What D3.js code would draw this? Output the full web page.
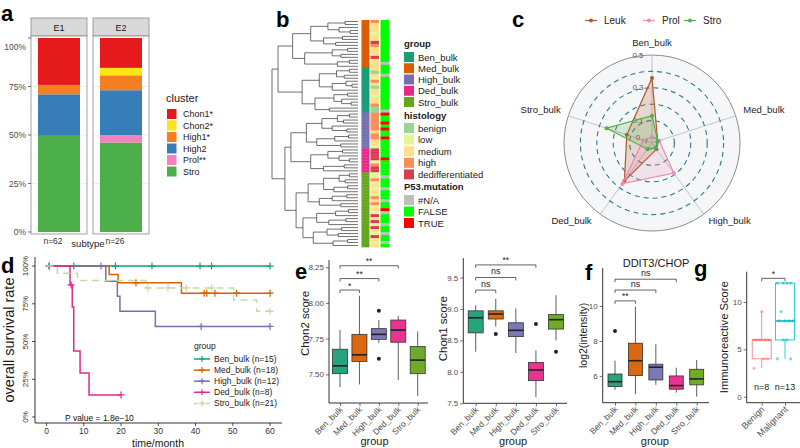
<!DOCTYPE html>
<html>
<head>
<meta charset="utf-8">
<script src="https://cdn.jsdelivr.net/npm/d3@7/dist/d3.min.js"></script>
<style>
html,body{margin:0;padding:0;background:#fff;}
svg{display:block;font-family:"Liberation Sans",Arial,Helvetica,sans-serif;}
</style>
</head>
<body>
<svg id="fig" width="800" height="448" viewBox="0 0 800 448"></svg>
<script>
// ================= DATA =================
// --- a: cluster composition per subtype
const clusterNames = ["Chon1*","Chon2*","High1*","High2","Prol**","Stro"];
const clusterColors = ["#E41A1C","#FFE31A","#F47F20","#377EB8","#F781BF","#4DAF4A"];
const subtypes = ["E1","E2"];
const subtypeN = ["n=62","n=26"];
const countsE1 = [15,0,3,13,0,31];
const countsE2 = [4,1,2,6,1,12];
const pctTicks = [0,0.25,0.5,0.75,1];

// --- b: heatmap annotations + dendrogram
const groups = ["Ben_bulk","Med_bulk","High_bulk","Ded_bulk","Stro_bulk"];
const groupColors = ["#1B9E77","#D95F02","#7570B3","#E7298A","#66A61E"];
const groupCodes = ["B","M","H","D","S"];
const histLevels = ["benign","low","medium","high","dedifferentiated"];
const histCodes = ["b","l","m","h","d"];
const histColors = ["#99D594","#E6F598","#FEE08B","#FC8D59","#D53E4F"];
const p53Levels = ["#N/A","FALSE","TRUE"];
const p53Codes = ["N","F","T"];
const p53Colors = ["#BEBEBE","#00FF00","#FF0000"];
const rowGroup = ["MMMMMMMMMMMMMMMM","BBBBBBBBBBBBBBB","HHHHHHHHHHHH","DDDDDDDD","SSSSSSSSSSSSSSSSSSSSSSSSS"];
const rowHist  = ["hmmmlmmdhmmmdmmm","mbmlhmbmmlmmhbb","hhhhhhmhhmml","ddddlhdd","llhlmlmlhmhlmldmdldmldmlm"];
const rowP53   = ["FFFFFFFFFFFFFFNF","FFNFFFFFFFFFFFN","TFFTFTFFTFFF","FFFTFFFF","FNFFFNFFFNFFTNFFFNFFNFFNF"];
// dendrogram: [mergeHeight, left, right], 0 = leaf
const treeMed  = [76,[55,[35,[15,0,0],[22,0,[9,0,0]]],[40,[18,0,0],[26,0,0]]],[62,[30,[12,0,0],[20,0,0]],[24,[10,0,0],0]]];
const treeBen  = [65,[45,[25,[10,0,0],[16,0,0]],[30,[14,0,[7,0,0]],0]],[50,[28,[12,0,0],[19,0,[8,0,0]]],[33,0,0]]];
const treeHigh = [60,[42,[24,[10,0,0],[17,0,0]],[30,0,[13,0,0]]],[48,[27,[11,0,0],0],[20,0,0]]];
const treeDed  = [55,[35,[18,0,0],[22,0,[10,0,0]]],[40,[16,0,0],0]];
const treeStro = [72,[58,[40,[22,[10,0,0],[15,0,0]],[28,[12,0,0],0]],[45,[30,[13,0,0],0],[20,0,0]]],[64,[48,[26,[11,0,0],0],[34,[14,0,0],0]],[52,[36,[19,0,0],[23,0,0]],[29,[12,0,0],0]]]];
const treeRoot = [100,[93,treeMed,treeBen],[85,[78,treeHigh,treeDed],treeStro]];

// --- c: radar
const radarAxes = ["Ben_bulk","Med_bulk","High_bulk","Ded_bulk","Stro_bulk"];
const radarSeries = ["Leuk","Prol","Stro"];
const radarColors = ["#B5572E","#E68DBA","#4FAF4A"];
const radarLeuk = [0.36, 0.0, 0.01, 0.25, 0.125];
const radarProl = [0.0, 0.01, 0.19, 0.27, 0.02];
const radarStro = [0.13, 0.0, 0.0, 0.01, 0.255];
const radarGrid = [0,0.1,0.2,0.3,0.4];
const radarTickLabels = [0,0.1,0.3,0.5];

// --- d: Kaplan-Meier
const kmLabels = ["Ben_bulk (n=15)","Med_bulk (n=18)","High_bulk (n=12)","Ded_bulk (n=8)","Stro_bulk (n=21)"];
const kmColors = ["#1B9E77","#D95F02","#7570B3","#E7298A","#C2DBA5"];
const kmTime = [[0],[0,16.8,19.2,36.2],[0,15.9,19,19.7,29.2],[0,6.3,6.9,7.3,9.0,11.4],[0,2.9,8.3,26.7,50.2,56.4]];
const kmSurv = [[1],[1,0.944,0.889,0.82],[1,0.9,0.8,0.7,0.6],[1,0.875,0.729,0.4375,0.292,0.146],[1,0.952,0.905,0.855,0.775,0.70]];
const kmEnd = [60,60,60,20,60];
const kmCensor = [[0.7,7.3,18.5,28.3,41.2,44.3,60],[24,42.3,43,45.2,51,60],[0.7,14.6,41.5,60],[6.6,20],[27.2,32.6,37.5,44.3,60]];
const kmXTicks = [0,10,20,30,40,50,60];
const kmPValue = "P value = 1.8e\u221210";

// --- e: Chon2 / Chon1 scores  [lowWhisker, Q1, median, Q3, highWhisker]
const chon2Stats = [[7.41,7.505,7.56,7.676,7.81],[7.43,7.59,7.637,7.78,8.05],[7.72,7.745,7.78,7.82,7.88],[7.46,7.725,7.81,7.88,7.91],[7.35,7.505,7.60,7.695,7.80]];
const chon2Outliers = [[],[],[7.61,7.945],[],[]];
const chon2Ticks = [7.50,7.75,8.00,8.25];
const chon2Sig = [["Ben_bulk","Med_bulk","*",8.09],["Ben_bulk","High_bulk","**",8.17],["Ben_bulk","Ded_bulk","**",8.26]];
const chon1Stats = [[8.32,8.62,8.86,8.97,9.06],[8.72,8.84,8.92,8.97,9.16],[8.30,8.56,8.66,8.78,9.01],[7.60,7.86,8.03,8.15,8.34],[8.50,8.68,8.83,8.91,9.22]];
const chon1Outliers = [[],[8.60],[],[8.76],[8.32]];
const chon1Ticks = [7.5,8.0,8.5,9.0,9.5];
const chon1Sig = [["Ben_bulk","Med_bulk","ns",9.30],["Ben_bulk","High_bulk","ns",9.50],["Ben_bulk","Ded_bulk","**",9.70]];

// --- f: DDIT3/CHOP
const ddit3Stats = [[5.2,5.39,5.67,6.11,6.87],[4.95,6.02,6.87,7.87,9.96],[5.49,5.77,6.5,6.67,7.81],[5.05,5.24,5.45,6.0,6.47],[4.82,5.49,5.83,6.38,6.91]];
const ddit3Outliers = [[8.57],[],[],[],[]];
const ddit3Ticks = [6,8,10];
const ddit3Sig = [["Ben_bulk","Med_bulk","**",10.29],["Ben_bulk","High_bulk","ns",10.91],["Ben_bulk","Ded_bulk","ns",11.53]];

// --- g: immunoreactive score
const irsCats = ["Benign","Malignant"];
const irsColors = ["#F8766D","#00BFC4"];
const irsBenign = [3,4,4,6,6,6,6,9];
const irsMalignant = [4,4,6,6,8,8,8,8,9,12,12,12,12];
const irsTicks = [0,5,10];
const irsN = ["n=8","n=13"];
const irsSig = [["Benign","Malignant","*",12.5]];

// ================= DRAWING =================
const FONT = '"Liberation Sans",Arial,Helvetica,sans-serif';
const svg = d3.select("#fig");

function T(g,x,y,s,size,o){
  o = o||{};
  const t = g.append("text").attr("x",x).attr("y",y).text(s)
    .attr("font-size",size).attr("fill",o.fill||"#1A1A1A")
    .attr("text-anchor",o.anchor||"start").attr("font-family",FONT);
  if(o.bold) t.attr("font-weight","bold");
  if(o.mid) t.attr("dominant-baseline","central");
  if(o.rot!==undefined) t.attr("transform",`rotate(${o.rot},${x},${y})`);
  return t;
}

// panel letters
[["a",1,21],["b",276,27],["c",512,27],["d",1,273],["e",295,279],["f",585,280],["g",694,276]]
  .forEach(([s,x,y])=>T(svg,x,y,s,22,{bold:true,fill:"#000"}));

// ---------- Panel a ----------
(function(){
  const g = svg.append("g");
  const yA = d3.scaleLinear().domain([0,1]).range([232,38]);
  const xA = d3.scaleBand().domain(subtypes).range([31,149]).paddingInner(6/62);
  const stackKeys = clusterNames.slice().reverse();
  const rows = [countsE1,countsE2].map((c,i)=>{
    const tot = d3.sum(c); const o = {subtype:subtypes[i]};
    clusterNames.forEach((k,j)=>o[k]=c[j]/tot); return o;
  });
  const stacked = d3.stack().keys(stackKeys)(rows);
  const w = xA.bandwidth();
  subtypes.forEach((s,i)=>{
    const x0 = xA(s);
    g.append("rect").attr("x",x0).attr("y",18).attr("width",w).attr("height",18)
      .attr("fill","#D9D9D9").attr("stroke","#8C8C8C").attr("stroke-width",0.8);
    T(g,x0+w/2,27.5,s,9,{anchor:"middle",mid:true});
    g.append("rect").attr("x",x0).attr("y",36).attr("width",w).attr("height",198).attr("fill","#fff");
    [0.125,0.375,0.625,0.875].forEach(v=>g.append("line").attr("x1",x0).attr("x2",x0+w).attr("y1",yA(v)).attr("y2",yA(v)).attr("stroke","#F2F2F2").attr("stroke-width",0.5));
    pctTicks.forEach(v=>g.append("line").attr("x1",x0).attr("x2",x0+w).attr("y1",yA(v)).attr("y2",yA(v)).attr("stroke","#EBEBEB").attr("stroke-width",0.8));
    stacked.forEach(ser=>{
      const d = ser[i]; if(d[1]-d[0]<=0) return;
      g.append("rect").attr("x",x0+w*0.125).attr("width",w*0.75)
        .attr("y",yA(d[1])).attr("height",yA(d[0])-yA(d[1]))
        .attr("fill",clusterColors[clusterNames.indexOf(ser.key)]);
    });
    g.append("rect").attr("x",x0).attr("y",36).attr("width",w).attr("height",198)
      .attr("fill","none").attr("stroke","#8C8C8C").attr("stroke-width",0.8);
    T(g,x0+w/2-6,244,subtypeN[i],8.5,{anchor:"middle",fill:"#333"});
  });
  T(g,88,247,"subtype",9.5,{anchor:"middle"});
  pctTicks.forEach(v=>{
    g.append("line").attr("x1",28).attr("x2",31).attr("y1",yA(v)).attr("y2",yA(v)).attr("stroke","#333").attr("stroke-width",0.7);
    T(g,26,yA(v)+(v===1?9:0),d3.format(".0%")(v),8.5,{anchor:"end",mid:true,fill:"#4D4D4D"});
  });
  // legend
  T(g,166,102,"cluster",11);
  clusterNames.forEach((n,i)=>{
    const yc = 114 + i*11.5;
    g.append("rect").attr("x",167).attr("y",yc-5).attr("width",9.5).attr("height",10).attr("fill",clusterColors[i]);
    T(g,183,yc,n,9,{mid:true});
  });
})();

// ---------- Panel b ----------
(function(){
  const g = svg.append("g");
  const gCodes = rowGroup.join("").split("");
  const hCodes = rowHist.join("").split("");
  const pCodes = rowP53.join("").split("");
  const n = gCodes.length;
  const yB = d3.scaleBand().domain(d3.range(n)).range([20,247]);
  const bw = yB.bandwidth();
  const cols = [[361.5,8,gCodes,groupCodes,groupColors],[370.5,8.5,hCodes,histCodes,histColors],[380.5,9,pCodes,p53Codes,p53Colors]];
  cols.forEach(([x,wd,codes,keys,colors])=>{
    codes.forEach((c,i)=>{
      g.append("rect").attr("x",x).attr("y",yB(i)).attr("width",wd).attr("height",bw+0.35)
        .attr("fill",colors[keys.indexOf(c)]);
    });
  });
  // dendrogram
  function build(node){ return node===0 ? {h:0} : {h:node[0], children:[build(node[1]),build(node[2])]}; }
  const root = d3.hierarchy(build(treeRoot), d=>d.children);
  const xDen = d3.scaleLinear().domain([0,100]).range([358,272]);
  root.leaves().forEach((l,i)=>{ l.yy = yB(Math.min(i,n-1)) + bw/2; });
  root.eachAfter(nd=>{ if(nd.children) nd.yy = d3.mean(nd.children,c=>c.yy); });
  const path = d3.path();
  root.each(nd=>{
    if(!nd.children) return;
    const [a,b] = nd.children; const xn = xDen(nd.data.h);
    path.moveTo(xDen(a.data.h),a.yy); path.lineTo(xn,a.yy); path.lineTo(xn,b.yy); path.lineTo(xDen(b.data.h),b.yy);
  });
  g.append("path").attr("d",path.toString()).attr("fill","none").attr("stroke","#333").attr("stroke-width",0.7);
  // legend
  const lx = 404;
  function block(title, ty, names, colors, y0, step){
    T(g,lx,ty,title,9.5,{bold:true});
    names.forEach((nm,i)=>{
      const yc = y0 + i*step;
      g.append("rect").attr("x",lx).attr("y",yc-5).attr("width",10).attr("height",10).attr("fill",colors[i]);
      T(g,lx+14,yc,nm,9.5,{mid:true,fill:"#222"});
    });
  }
  block("group",46.5,groups,groupColors,57,11.25);
  block("histology",118.5,histLevels,histColors,128,11.6);
  block("P53.mutation",189.5,p53Levels,p53Colors,200,11.5);
})();

// ---------- Panel c ----------
(function(){
  const g = svg.append("g");
  const cx = 652, cy = 143;
  const rR = d3.scaleLinear().domain([0,0.5]).range([6,88]);
  const ang = d3.scalePoint().domain(radarAxes).range([0, 2*Math.PI*4/5]);
  const pt = (a,v)=>{ const t = ang(a)-Math.PI/2; return [cx+rR(v)*Math.cos(t), cy+rR(v)*Math.sin(t)]; };
  g.append("circle").attr("cx",cx).attr("cy",cy).attr("r",rR(0.5)).attr("fill","#F5F6F7").attr("stroke","#8C8C8C").attr("stroke-width",1);
  radarAxes.forEach(a=>{
    const [x1,y1] = pt(a,0.5);
    g.append("line").attr("x1",cx).attr("y1",cy).attr("x2",x1).attr("y2",y1).attr("stroke","#C4C4C4").attr("stroke-width",1);
  });
  radarGrid.forEach(v=>g.append("circle").attr("cx",cx).attr("cy",cy).attr("r",rR(v)).attr("fill","none")
    .attr("stroke","#2C7D8C").attr("stroke-width",1.1).attr("stroke-dasharray","5,4"));
  radarTickLabels.forEach(v=>T(g,cx-14,cy-rR(v),String(v),8,{anchor:"middle",mid:true,fill:"#555"}));
  const vals = [radarLeuk,radarProl,radarStro];
  vals.forEach((vs,k)=>{
    const pts = radarAxes.map((a,i)=>pt(a,vs[i]));
    g.append("path").attr("d",d3.line()(pts)+"Z").attr("fill",radarColors[k]).attr("fill-opacity",0.2)
      .attr("stroke",radarColors[k]).attr("stroke-width",1.2);
    pts.forEach(p=>g.append("circle").attr("cx",p[0]).attr("cy",p[1]).attr("r",2).attr("fill",radarColors[k]));
  });
  radarAxes.forEach(a=>{
    const t = ang(a)-Math.PI/2, R = rR(0.5)+8;
    const x = cx+R*Math.cos(t), y = cy+R*Math.sin(t);
    const c = Math.cos(t);
    const anchor = Math.abs(c)<0.1 ? "middle" : (c>0 ? "start" : "end");
    const dy = Math.abs(c)<0.1 ? -5 : (Math.sin(t)<0 ? -4 : 0);
    T(g,x + (c<-0.1 && Math.sin(t)>0 ? -4 : 0),y+dy,a,9.5,{anchor,mid:true,fill:"#222"});
  });
  // legend
  const lxs = [585,643,684];
  radarSeries.forEach((s,k)=>{
    g.append("line").attr("x1",lxs[k]).attr("x2",lxs[k]+12).attr("y1",20.5).attr("y2",20.5).attr("stroke",radarColors[k]).attr("stroke-width",1.2);
    g.append("circle").attr("cx",lxs[k]+6).attr("cy",20.5).attr("r",2).attr("fill",radarColors[k]);
    T(g,lxs[k]+19,20.5,s,10,{mid:true,fill:"#222"});
  });
})();

// ---------- Panel d ----------
(function(){
  const g = svg.append("g");
  const x = d3.scaleLinear().domain([-3.1,63.2]).range([35,282]);
  const y = d3.scaleLinear().domain([-0.04,1.06]).range([423,257]);
  g.append("line").attr("x1",35).attr("x2",35).attr("y1",257).attr("y2",423).attr("stroke","#000").attr("stroke-width",0.8);
  g.append("line").attr("x1",35).attr("x2",282).attr("y1",423).attr("y2",423).attr("stroke","#000").attr("stroke-width",0.8);
  pctTicks.forEach(v=>{
    g.append("line").attr("x1",32).attr("x2",35).attr("y1",y(v)).attr("y2",y(v)).attr("stroke","#000").attr("stroke-width",0.7);
    T(g,26,y(v),d3.format(".0%")(v),8,{anchor:"middle",mid:true,rot:-90,fill:"#333"});
  });
  kmXTicks.forEach(v=>{
    g.append("line").attr("x1",x(v)).attr("x2",x(v)).attr("y1",423).attr("y2",426).attr("stroke","#000").attr("stroke-width",0.7);
    T(g,x(v),430.5,String(v),8.5,{anchor:"middle",mid:true,fill:"#333"});
  });
  T(g,158,446.5,"time/month",10.5,{anchor:"middle"});
  T(g,14,340,"overall survival rate",14.5,{anchor:"middle",rot:-90});
  T(g,65,421,kmPValue,8.5,{fill:"#111"});
  const line = d3.line().x(d=>x(d[0])).y(d=>y(d[1])).curve(d3.curveStepAfter);
  kmTime.forEach((ts,k)=>{
    const pts = ts.map((t,i)=>[t,kmSurv[k][i]]);
    pts.push([kmEnd[k], kmSurv[k][kmSurv[k].length-1]]);
    const p = g.append("path").attr("d",line(pts)).attr("fill","none").attr("stroke",kmColors[k]).attr("stroke-width",1.5);
    if(k===4) p.attr("stroke-dasharray","7,5");
    kmCensor[k].forEach(t=>{
      let s = 1; ts.forEach((tt,i)=>{ if(tt<=t) s = kmSurv[k][i]; });
      const cx = x(t), cy = y(s);
      g.append("path").attr("d",`M${cx-3.5},${cy}h7M${cx},${cy-3.5}v7`).attr("stroke",kmColors[k]).attr("stroke-width",1.2);
    });
  });
  // legend
  T(g,194,349,"group",8.5);
  kmLabels.forEach((lb,k)=>{
    const yc = 359 + k*11.1;
    const l = g.append("line").attr("x1",194).attr("x2",210).attr("y1",yc).attr("y2",yc).attr("stroke",kmColors[k]).attr("stroke-width",1.5);
    if(k===4) l.attr("stroke-dasharray","4,2");
    g.append("path").attr("d",`M${202-3},${yc}h6M202,${yc-3}v6`).attr("stroke",kmColors[k]).attr("stroke-width",1.2);
    T(g,214,yc,lb,8.5,{mid:true,fill:"#222"});
  });
})();

// ---------- Box plot helper ----------
function boxPanel(p){
  const g = svg.append("g");
  const x = d3.scalePoint().domain(p.cats).range(p.xr);
  const y = d3.scaleLinear().domain(p.yd).range(p.yr);
  const hw = p.boxW/2;
  p.stats.forEach((s,i)=>{
    const cx = x(p.cats[i]), col = p.colors[i];
    const edge = p.colored ? col : "#333";
    g.append("line").attr("x1",cx).attr("x2",cx).attr("y1",y(s[0])).attr("y2",y(s[1])).attr("stroke",edge).attr("stroke-width",0.8);
    g.append("line").attr("x1",cx).attr("x2",cx).attr("y1",y(s[3])).attr("y2",y(s[4])).attr("stroke",edge).attr("stroke-width",0.8);
    g.append("rect").attr("x",cx-hw).attr("y",y(s[3])).attr("width",p.boxW).attr("height",Math.max(0.5,y(s[1])-y(s[3])))
      .attr("fill",p.colored ? "#fff" : col).attr("fill-opacity",p.colored?0:0.95).attr("stroke",edge).attr("stroke-width",0.8);
    g.append("line").attr("x1",cx-hw).attr("x2",cx+hw).attr("y1",y(s[2])).attr("y2",y(s[2])).attr("stroke",p.colored?col:"#222").attr("stroke-width",1.6);
    (p.outliers? p.outliers[i]:[]).forEach(v=>g.append("circle").attr("cx",cx).attr("cy",y(v)).attr("r",2).attr("fill","#222"));
    if(p.points){
      p.points[i].forEach((v,j)=>{
        const off = (((j*7)%9)/8 - 0.5) * p.boxW*0.8;
        g.append("circle").attr("cx",cx+off).attr("cy",y(v)).attr("r",1.6).attr("fill",col).attr("fill-opacity",0.55);
      });
    }
  });
  // axes
  g.append("line").attr("x1",p.ax[0]).attr("x2",p.ax[0]).attr("y1",p.yr[1]).attr("y2",p.yr[0]).attr("stroke","#000").attr("stroke-width",0.8);
  g.append("line").attr("x1",p.ax[0]).attr("x2",p.ax[1]).attr("y1",p.yr[0]).attr("y2",p.yr[0]).attr("stroke","#000").attr("stroke-width",0.8);
  const ya = g.append("g").attr("transform",`translate(${p.ax[0]},0)`)
    .call(d3.axisLeft(y).tickValues(p.ticks).tickFormat(p.fmt).tickSize(3).tickPadding(2));
  ya.select(".domain").remove();
  ya.attr("font-family",FONT);
  ya.selectAll(".tick line").attr("stroke","#333").attr("stroke-width",0.7);
  ya.selectAll(".tick text").attr("font-size",8).attr("fill","#4D4D4D");
  const xa = g.append("g").attr("transform",`translate(0,${p.yr[0]})`)
    .call(d3.axisBottom(x).tickSize(3));
  xa.select(".domain").remove();
  xa.attr("font-family",FONT);
  xa.selectAll(".tick line").attr("stroke","#333").attr("stroke-width",0.7);
  xa.selectAll(".tick text").attr("font-size",p.xFont||8.5).attr("fill","#4D4D4D")
    .attr("text-anchor","end").attr("x",-3).attr("y",4).attr("dy","0.35em").attr("transform","rotate(-45)");
  // significance brackets
  p.sig.forEach(([a,b,lab,v])=>{
    const x1 = x(a), x2 = x(b), yy = y(v);
    g.append("path").attr("d",`M${x1},${yy+3}V${yy}H${x2}V${yy+3}`).attr("fill","none").attr("stroke","#222").attr("stroke-width",0.7);
    T(g,(x1+x2)/2,yy-(lab==="ns"?3:1.5),lab,lab==="ns"?9:8.5,{anchor:"middle",fill:"#222"});
  });
  if(p.yTitle) T(g,p.yTitle[1],(p.yr[0]+p.yr[1])/2 + (p.yTitle[3]||0),p.yTitle[0],p.yTitle[2],{anchor:"middle",rot:-90,mid:true});
  if(p.xTitle) T(g,(p.ax[0]+p.ax[1])/2 + (p.xTitleDx||0),445,p.xTitle,11,{anchor:"middle"});
  return {g,x,y};
}

// ---------- Panel e ----------
boxPanel({cats:groups,colors:groupColors,xr:[340,417.7],ax:[329,428],yd:[7.30,8.30],yr:[403,260],
  stats:chon2Stats,outliers:chon2Outliers,ticks:chon2Ticks,fmt:d3.format(".2f"),boxW:15,sig:chon2Sig,
  yTitle:["Chon2 score",305,11.5,-8],xTitle:"group",xTitleDx:-4});
boxPanel({cats:groups,colors:groupColors,xr:[475.7,556],ax:[463.3,567],yd:[7.5,9.81],yr:[403.3,258],
  stats:chon1Stats,outliers:chon1Outliers,ticks:chon1Ticks,fmt:d3.format(".1f"),boxW:15,sig:chon1Sig,
  yTitle:["Chon1 score",443,11.5,-2],xTitle:"group",xTitleDx:-2});

// ---------- Panel f ----------
(function(){
  const r = boxPanel({cats:groups,colors:groupColors,xr:[615,696.7],ax:[602.7,709],yd:[4.47,12.17],yr:[402.7,268],
    stats:ddit3Stats,outliers:ddit3Outliers,ticks:ddit3Ticks,fmt:d3.format("d"),boxW:14,sig:ddit3Sig,
    yTitle:["log2(intensity)",583,10.5,0],xTitle:"group",xTitleDx:-1});
  T(r.g,656,263,"DDIT3/CHOP",11,{anchor:"middle",mid:true});
})();

// ---------- Panel g ----------
(function(){
  const statsOf = arr=>{
    const s = arr.slice().sort(d3.ascending);
    const q1 = d3.quantile(s,0.25), md = d3.quantile(s,0.5), q3 = d3.quantile(s,0.75), iqr = q3-q1;
    const lo = d3.min(s.filter(v=>v>=q1-1.5*iqr)), hi = d3.max(s.filter(v=>v<=q3+1.5*iqr));
    return [lo,q1,md,q3,hi];
  };
  const r = boxPanel({cats:irsCats,colors:irsColors,xr:[761.7,785],ax:[746.7,801],yd:[-0.63,13.2],yr:[402.7,271.7],
    stats:[statsOf(irsBenign),statsOf(irsMalignant)],points:[irsBenign,irsMalignant],colored:true,
    ticks:irsTicks,fmt:d3.format("d"),boxW:19,sig:irsSig,xFont:9,
    yTitle:["Immunoreactive Score",724,11.2,0]});
  irsN.forEach((s,i)=>T(r.g,r.x(irsCats[i]),387,s,9,{anchor:"middle",mid:true,fill:"#222"}));
})();
</script>
</body>
</html>
